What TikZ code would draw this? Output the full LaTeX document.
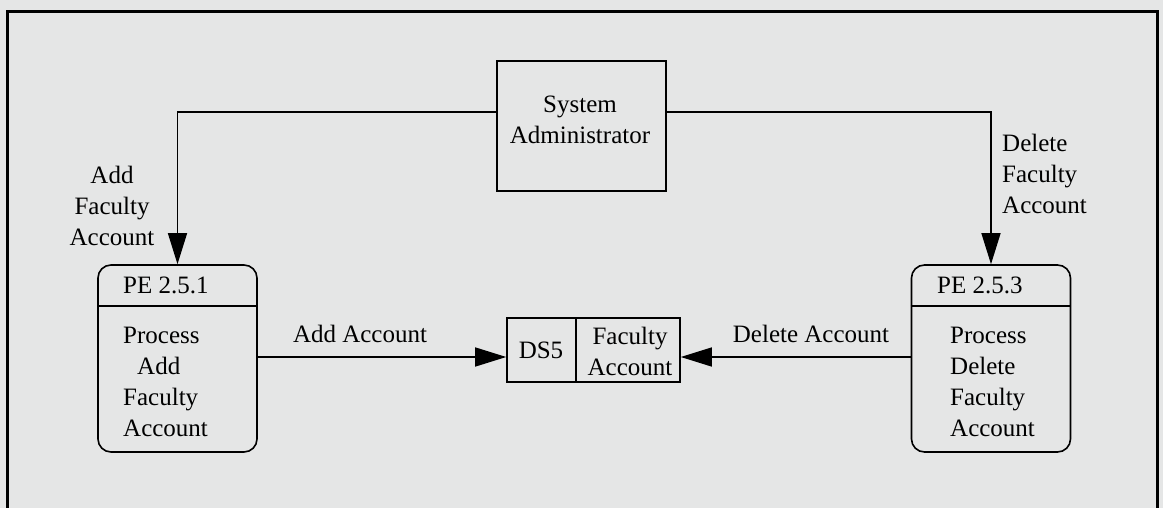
\documentclass[tikz,border=0pt]{standalone}
\usepackage{fontspec}
\setmainfont{Liberation Serif}
\usetikzlibrary{arrows.meta}
\definecolor{scanbg}{RGB}{229,230,230}
\tikzset{
  txt/.style={inner sep=0pt, font=\fontsize{25}{31}\selectfont},
  extbox/.style={draw, line width=1.6pt, minimum width=169, minimum height=130},
  procbox/.style={draw, line width=1.6pt, rounded corners=13pt, minimum width=159, minimum height=187},
  storebox/.style={draw, line width=1.6pt, minimum width=173, minimum height=64},
  flow/.style={line width=1.4pt, -{Triangle[length=31pt,width=19pt]}},
  frame/.style={line width=3pt}
}
\begin{document}
\begin{tikzpicture}[x=1pt,y=-1pt]
\fill[scanbg] (0,0) rectangle (1163,508);
\useasboundingbox (0,0) rectangle (1163,508);
% outer frame
\coordinate (fbl) at (7,508);
\coordinate (ftl) at (7,12);
\coordinate (ftr) at (1157,12);
\coordinate (fbr) at (1157,508);
\draw[frame] (fbl) -- (ftl) -- (ftr) -- (fbr);

% external entity
\node[extbox] (sa) at (581.5,126) {};
\node[txt, align=center, anchor=north] (satxt) at (580,96) {System\\Administrator};

% processes
\node[procbox] (pe1) at (177.5,358.5) {};
\node[procbox] (pe2) at (991,358.5) {};
\draw[line width=1.6pt] (pe1.west |- 0,306) -- (pe1.east |- 0,306);
\draw[line width=1.6pt] (pe2.west |- 0,306) -- (pe2.east |- 0,306);
\node[txt, anchor=base west] (pe1h) at (123,293) {PE 2.5.1};
\node[txt, anchor=base west] (pe2h) at (937,293) {PE 2.5.3};
\node[txt, anchor=north west, align=left] (pe1b) at (123,327) {Process\\\hspace*{14pt}Add\\Faculty\\Account};
\node[txt, anchor=north west, align=left] (pe2b) at (950,327) {Process\\Delete\\Faculty\\Account};

% data store
\node[storebox] (ds) at (593.5,350) {};
\draw[line width=1.6pt] (576,0 |- ds.north) -- (576,0 |- ds.south);
\node[txt] (dsid) at (541,350) {DS5};
\node[txt, align=center] (dsname) at (630,351) {Faculty\\Account};

% flows
\draw[flow] (sa.west |- 0,112) -| (pe1.north);
\draw[flow] (sa.east |- 0,112) -| (pe2.north);
\draw[flow] (pe1.east |- 0,357) -- (ds.west |- 0,357);
\draw[flow] (pe2.west |- 0,357) -- (ds.east |- 0,357);

% flow labels
\node[txt, align=center, anchor=north] (l1) at (112,166) {Add\\Faculty\\Account};
\node[txt, align=left, anchor=north west] (l2) at (1002,134) {Delete\\Faculty\\Account};
\node[txt, anchor=base] (l3) at (360,342) {Add Account};
\node[txt, anchor=base] (l4) at (811,342) {Delete Account};
\end{tikzpicture}
\end{document}
